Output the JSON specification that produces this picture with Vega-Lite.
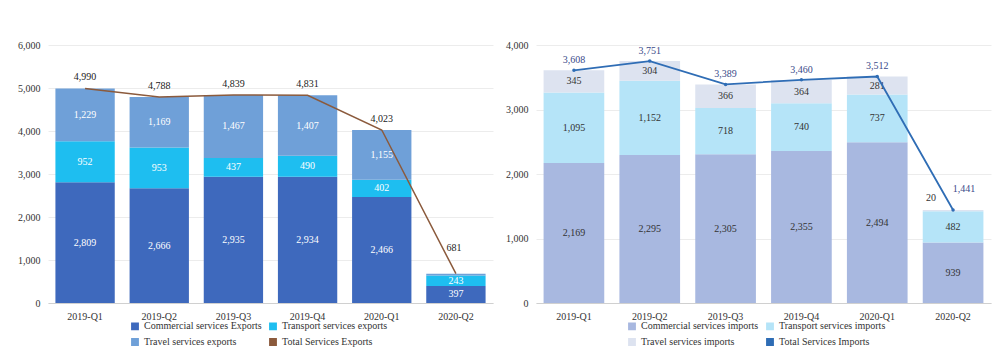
{
  "$schema": "https://vega.github.io/schema/vega-lite/v6.json",
  "padding": {"left": 17, "top": 40, "right": 5, "bottom": 0},
  "spacing": 12,
  "config": {
    "font": "Liberation Serif",
    "view": {"stroke": null},
    "axis": {"labelFont": "Liberation Serif", "labelFontSize": 10, "labelColor": "#333", "title": null, "ticks": false, "labelPadding": 8, "gridColor": "#e6e6e6", "domainColor": "#d0d0d0"},
    "legend": {"labelFont": "Liberation Serif", "labelFontSize": 10, "labelColor": "#333", "orient": "none", "direction": "horizontal", "columns": 2, "title": null, "symbolType": "square", "symbolSize": 40, "rowPadding": 2, "columnPadding": 4, "labelLimit": 300}
  },
  "datasets": {
    "exports": [
      {"q": "2019-Q1", "series": "Commercial services Exports", "value": 2809},
      {"q": "2019-Q1", "series": "Transport services exports", "value": 952},
      {"q": "2019-Q1", "series": "Travel services exports", "value": 1229},
      {"q": "2019-Q2", "series": "Commercial services Exports", "value": 2666},
      {"q": "2019-Q2", "series": "Transport services exports", "value": 953},
      {"q": "2019-Q2", "series": "Travel services exports", "value": 1169},
      {"q": "2019-Q3", "series": "Commercial services Exports", "value": 2935},
      {"q": "2019-Q3", "series": "Transport services exports", "value": 437},
      {"q": "2019-Q3", "series": "Travel services exports", "value": 1467},
      {"q": "2019-Q4", "series": "Commercial services Exports", "value": 2934},
      {"q": "2019-Q4", "series": "Transport services exports", "value": 490},
      {"q": "2019-Q4", "series": "Travel services exports", "value": 1407},
      {"q": "2020-Q1", "series": "Commercial services Exports", "value": 2466},
      {"q": "2020-Q1", "series": "Transport services exports", "value": 402},
      {"q": "2020-Q1", "series": "Travel services exports", "value": 1155},
      {"q": "2020-Q2", "series": "Commercial services Exports", "value": 397},
      {"q": "2020-Q2", "series": "Transport services exports", "value": 243},
      {"q": "2020-Q2", "series": "Travel services exports", "value": 41}
    ],
    "exportTotals": [
      {"q": "2019-Q1", "series": "Total Services Exports", "value": 4990},
      {"q": "2019-Q2", "series": "Total Services Exports", "value": 4788},
      {"q": "2019-Q3", "series": "Total Services Exports", "value": 4839},
      {"q": "2019-Q4", "series": "Total Services Exports", "value": 4831},
      {"q": "2020-Q1", "series": "Total Services Exports", "value": 4023},
      {"q": "2020-Q2", "series": "Total Services Exports", "value": 681}
    ],
    "imports": [
      {"q": "2019-Q1", "series": "Commercial services imports", "value": 2169},
      {"q": "2019-Q1", "series": "Transport services imports", "value": 1095},
      {"q": "2019-Q1", "series": "Travel services imports", "value": 345},
      {"q": "2019-Q2", "series": "Commercial services imports", "value": 2295},
      {"q": "2019-Q2", "series": "Transport services imports", "value": 1152},
      {"q": "2019-Q2", "series": "Travel services imports", "value": 304},
      {"q": "2019-Q3", "series": "Commercial services imports", "value": 2305},
      {"q": "2019-Q3", "series": "Transport services imports", "value": 718},
      {"q": "2019-Q3", "series": "Travel services imports", "value": 366},
      {"q": "2019-Q4", "series": "Commercial services imports", "value": 2355},
      {"q": "2019-Q4", "series": "Transport services imports", "value": 740},
      {"q": "2019-Q4", "series": "Travel services imports", "value": 364},
      {"q": "2020-Q1", "series": "Commercial services imports", "value": 2494},
      {"q": "2020-Q1", "series": "Transport services imports", "value": 737},
      {"q": "2020-Q1", "series": "Travel services imports", "value": 281},
      {"q": "2020-Q2", "series": "Commercial services imports", "value": 939},
      {"q": "2020-Q2", "series": "Transport services imports", "value": 482},
      {"q": "2020-Q2", "series": "Travel services imports", "value": 20}
    ],
    "importTotals": [
      {"q": "2019-Q1", "series": "Total Services Imports", "value": 3608},
      {"q": "2019-Q2", "series": "Total Services Imports", "value": 3751},
      {"q": "2019-Q3", "series": "Total Services Imports", "value": 3389},
      {"q": "2019-Q4", "series": "Total Services Imports", "value": 3460},
      {"q": "2020-Q1", "series": "Total Services Imports", "value": 3512},
      {"q": "2020-Q2", "series": "Total Services Imports", "value": 1441}
    ]
  },
  "resolve": {"scale": {"color": "independent"}, "legend": {"color": "independent"}},
  "hconcat": [
    {
      "width": 445,
      "height": 258,
      "encoding": {
        "x": {"field": "q", "type": "nominal", "scale": {"paddingInner": 0.2, "paddingOuter": 0.1}, "axis": {"labelAngle": 0, "grid": false}},
        "color": {"field": "series", "type": "nominal", "scale": {"domain": ["Commercial services Exports", "Transport services exports", "Travel services exports", "Total Services Exports"], "range": ["#3E69BD", "#1EBEF0", "#6FA0D8", "#8B5A3C"]}, "legend": {"legendX": 82, "legendY": 276}}
      },
      "layer": [
        {
          "data": {"name": "exports"},
          "mark": {"type": "bar"},
          "encoding": {
            "y": {"field": "value", "type": "quantitative", "stack": "zero", "scale": {"domain": [0, 6000]}, "axis": {"values": [0, 1000, 2000, 3000, 4000, 5000, 6000], "format": ",.0f", "domain": false, "gridColor": "#ececec"}},
            "order": {"field": "series", "sort": "ascending"}
          }
        },
        {
          "data": {"name": "exports"},
          "transform": [
            {"stack": "value", "groupby": ["q"], "sort": [{"field": "series"}], "as": ["v0", "v1"]},
            {"fold": ["v0", "v1"], "as": ["edge", "pos"]},
            {"aggregate": [{"op": "mean", "field": "pos", "as": "mid"}, {"op": "max", "field": "value", "as": "value"}], "groupby": ["q", "series"]},
            {"filter": "datum.value >= 100"}
          ],
          "mark": {"type": "text", "fontSize": 10, "baseline": "middle"},
          "encoding": {
            "y": {"field": "mid", "type": "quantitative"},
            "text": {"field": "value", "type": "quantitative", "format": ","},
            "color": {"value": "white"}
          }
        },
        {
          "data": {"name": "exportTotals"},
          "mark": {"type": "line", "strokeWidth": 1.5},
          "encoding": {"y": {"field": "value", "type": "quantitative"}}
        },
        {
          "data": {"name": "exportTotals"},
          "transform": [{"filter": "datum.q != '2020-Q2'"}],
          "mark": {"type": "text", "fontSize": 10, "dy": -11},
          "encoding": {
            "y": {"field": "value", "type": "quantitative"},
            "text": {"field": "value", "type": "quantitative", "format": ","},
            "color": {"value": "#222"}
          }
        },
        {
          "data": {"name": "exportTotals"},
          "transform": [{"filter": "datum.q == '2020-Q2'"}],
          "mark": {"type": "text", "fontSize": 10, "dy": -26, "dx": -2},
          "encoding": {
            "y": {"field": "value", "type": "quantitative"},
            "text": {"field": "value", "type": "quantitative", "format": ","},
            "color": {"value": "#222"}
          }
        }
      ]
    },
    {
      "width": 455,
      "height": 258,
      "encoding": {
        "x": {"field": "q", "type": "nominal", "scale": {"paddingInner": 0.2, "paddingOuter": 0.1}, "axis": {"labelAngle": 0, "grid": false}},
        "color": {"field": "series", "type": "nominal", "scale": {"domain": ["Commercial services imports", "Transport services imports", "Travel services imports", "Total Services Imports"], "range": ["#A8B8E0", "#B5E4F8", "#DDE3F0", "#2F6DB5"]}, "legend": {"legendX": 91, "legendY": 276}}
      },
      "layer": [
        {
          "data": {"name": "imports"},
          "mark": {"type": "bar"},
          "encoding": {
            "y": {"field": "value", "type": "quantitative", "stack": "zero", "scale": {"domain": [0, 4000]}, "axis": {"values": [0, 500, 1000, 1500, 2000, 2500, 3000, 3500, 4000], "format": ",.0f", "domain": false, "gridColor": "#ececec"}},
            "order": {"field": "series", "sort": "ascending"}
          }
        },
        {
          "data": {"name": "imports"},
          "transform": [
            {"stack": "value", "groupby": ["q"], "sort": [{"field": "series"}], "as": ["v0", "v1"]},
            {"fold": ["v0", "v1"], "as": ["edge", "pos"]},
            {"aggregate": [{"op": "mean", "field": "pos", "as": "mid"}, {"op": "max", "field": "value", "as": "value"}], "groupby": ["q", "series"]},
            {"filter": "datum.value >= 100"}
          ],
          "mark": {"type": "text", "fontSize": 10, "baseline": "middle"},
          "encoding": {
            "y": {"field": "mid", "type": "quantitative"},
            "text": {"field": "value", "type": "quantitative", "format": ","},
            "color": {"value": "#333"}
          }
        },
        {
          "data": {"name": "imports"},
          "transform": [{"stack": "value", "groupby": ["q"], "sort": [{"field": "series"}], "as": ["v0", "v1"]}, {"filter": "datum.value < 100"}],
          "mark": {"type": "text", "fontSize": 10, "baseline": "middle", "dx": -22, "dy": -12},
          "encoding": {
            "y": {"field": "v1", "type": "quantitative"},
            "text": {"field": "value", "type": "quantitative", "format": ","},
            "color": {"value": "#333"}
          }
        },
        {
          "data": {"name": "importTotals"},
          "mark": {"type": "line", "strokeWidth": 1.8, "point": {"size": 12, "filled": true}},
          "encoding": {"y": {"field": "value", "type": "quantitative"}}
        },
        {
          "data": {"name": "importTotals"},
          "transform": [{"filter": "datum.q != '2020-Q2'"}],
          "mark": {"type": "text", "fontSize": 10, "dy": -10},
          "encoding": {
            "y": {"field": "value", "type": "quantitative"},
            "text": {"field": "value", "type": "quantitative", "format": ","},
            "color": {"value": "#3a4a8a"}
          }
        },
        {
          "data": {"name": "importTotals"},
          "transform": [{"filter": "datum.q == '2020-Q2'"}],
          "mark": {"type": "text", "fontSize": 10, "dy": -21, "dx": 11},
          "encoding": {
            "y": {"field": "value", "type": "quantitative"},
            "text": {"field": "value", "type": "quantitative", "format": ","},
            "color": {"value": "#3a4a8a"}
          }
        }
      ]
    }
  ]
}
